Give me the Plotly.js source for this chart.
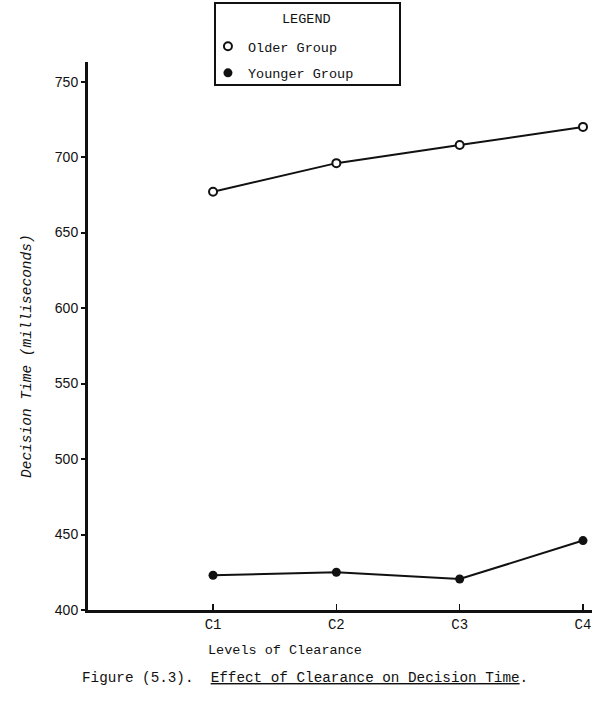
<!DOCTYPE html>
<html>
<head>
<meta charset="utf-8">
<script src="https://cdn.plot.ly/plotly-3.0.1.min.js"></script>
<style>
  html, body { margin: 0; padding: 0; background: #ffffff; }
  #chart { width: 592px; height: 725px; }
</style>
</head>
<body>
<div id="chart"></div>
<script>
// Levels of clearance on the horizontal axis
const levels = ['C1', 'C2', 'C3', 'C4'];
// Mean decision time (milliseconds) per group
const olderGroup = [677, 696, 708, 720];
const youngerGroup = [423, 425, 420.5, 446];
// Vertical axis labels
const yTicks = [400, 450, 500, 550, 600, 650, 700, 750];

const typeFont = 'Liberation Mono, Courier New, monospace';
const ink = '#111111';

const traces = [
  {
    x: levels, y: olderGroup, type: 'scatter', mode: 'lines+markers',
    name: 'Older Group', showlegend: false,
    line: { color: ink, width: 2 },
    marker: { symbol: 'circle', size: 8, color: '#ffffff', line: { color: ink, width: 2 } }
  },
  {
    x: levels, y: youngerGroup, type: 'scatter', mode: 'lines+markers',
    name: 'Younger Group', showlegend: false,
    line: { color: ink, width: 2 },
    marker: { symbol: 'circle', size: 9, color: ink, line: { color: ink, width: 0 } }
  },
  // legend keys (symbol only, no line sample)
  {
    x: [null], y: [null], type: 'scatter', mode: 'markers', name: 'Older Group',
    legendgroup: 'a',
    marker: { symbol: 'circle', size: 8, color: '#ffffff', line: { color: ink, width: 2 } }
  },
  {
    x: [null], y: [null], type: 'scatter', mode: 'markers', name: 'Younger Group',
    legendgroup: 'b',
    marker: { symbol: 'circle', size: 9, color: ink, line: { color: ink, width: 0 } }
  }
];

const layout = {
  width: 592, height: 725,
  margin: { l: 88, r: 0, t: 62, b: 115 },
  paper_bgcolor: '#ffffff', plot_bgcolor: '#ffffff',
  showlegend: true,
  legend: {
    x: 0.238, xanchor: 'left', y: 1.0566, yanchor: 'top',
    bgcolor: 'rgba(0,0,0,0)', borderwidth: 0,
    font: { family: typeFont, size: 13.5, color: ink },
    tracegroupgap: 6,
    itemclick: false
  },
  xaxis: {
    type: 'category',
    range: [-1.014, 3.073],
    showgrid: false, zeroline: false,
    showline: true, linecolor: ink, linewidth: 2.5,
    ticks: 'inside', ticklen: 6, tickwidth: 1.5, tickcolor: ink,
    tickfont: { family: typeFont, size: 14, color: ink },
    fixedrange: true
  },
  yaxis: {
    range: [400, 763],
    tickvals: yTicks,
    showgrid: false, zeroline: false,
    showline: true, linecolor: ink, linewidth: 3,
    ticks: 'outside', ticklen: 4, tickwidth: 2, tickcolor: ink,
    tickfont: { family: 'Liberation Sans, Arial, sans-serif', size: 14, color: ink },
    fixedrange: true
  },
  shapes: [
    {
      type: 'rect', xref: 'paper', yref: 'paper',
      x0: (215 - 88) / 504, x1: (400 - 88) / 504,
      y0: (610 - 85) / 548, y1: (610 - 3) / 548,
      line: { color: ink, width: 2 }, fillcolor: 'rgba(0,0,0,0)'
    }
  ],
  annotations: [
    {
      text: 'LEGEND',
      xref: 'paper', yref: 'paper', x: (306 - 88) / 504, y: (610 - 20) / 548,
      xanchor: 'center', yanchor: 'middle', showarrow: false,
      font: { family: typeFont, size: 13.5, color: ink }
    },
    {
      text: 'Decision Time (milliseconds)',
      xref: 'paper', yref: 'paper', x: (27 - 88) / 504, y: (610 - 356) / 548,
      xanchor: 'center', yanchor: 'middle', textangle: -90, showarrow: false,
      font: { family: typeFont, size: 14.5, color: ink, style: 'italic' }
    },
    {
      text: 'Levels of Clearance',
      xref: 'paper', yref: 'paper', x: (285 - 88) / 504, y: (610 - 650) / 548,
      xanchor: 'center', yanchor: 'middle', showarrow: false,
      font: { family: typeFont, size: 13.5, color: ink }
    },
    {
      text: 'Figure (5.3).\u00A0\u00A0<u>Effect of Clearance on Decision Time</u>.',
      xref: 'paper', yref: 'paper', x: (80 - 88) / 504, y: (610 - 678) / 548,
      xanchor: 'left', yanchor: 'middle', showarrow: false,
      font: { family: typeFont, size: 14.3, color: ink }
    }
  ]
};

Plotly.newPlot('chart', traces, layout, { staticPlot: true, displayModeBar: false });
</script>
</body>
</html>
